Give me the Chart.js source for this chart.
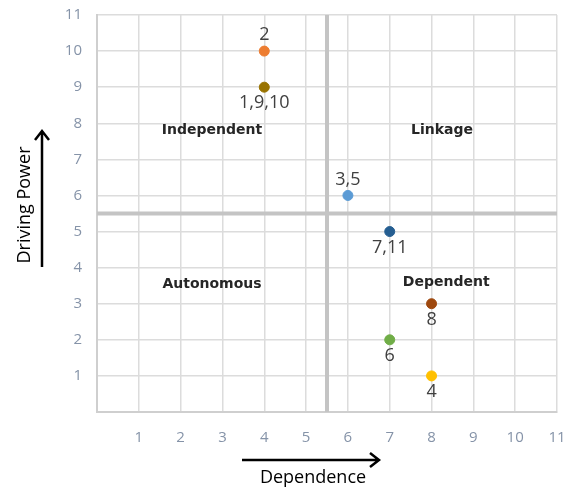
<!DOCTYPE html>
<html>
<head>
<meta charset="utf-8">
<script src="https://cdn.jsdelivr.net/npm/chart.js@4.4.0/dist/chart.umd.min.js"></script>
<style>
  html, body { margin: 0; padding: 0; background: #fff; }
  #wrap { width: 566px; height: 489px; }
</style>
</head>
<body>
<div id="wrap"><canvas id="myChart" width="566" height="489"></canvas></div>
<script>
// variables (dependence, driving power)
var dependence  = [4, 4, 6, 7, 8, 7, 8];
var drivingPower = [10, 9, 6, 5, 3, 2, 1];
var pointLabels = ["2", "1,9,10", "3,5", "7,11", "8", "6", "4"];
var labelSide   = ["above", "below", "above", "below", "below", "below", "below"];
var pointColors = ["#ED7D31", "#997300", "#5B9BD5", "#255E91", "#9E480E", "#70AD47", "#FFC000"];
var axisTicks = [0, 1, 2, 3, 4, 5, 6, 7, 8, 9, 10, 11];
var splitAt = 5.5;
var quadrants = [
  { text: "Independent", x: 2.75, y: 7.8 },
  { text: "Linkage",     x: 8.25, y: 7.8 },
  { text: "Autonomous",  x: 2.75, y: 3.55 },
  { text: "Dependent",   x: 8.35, y: 3.6 }
];

var points = [];
for (var i = 0; i < dependence.length; i++) {
  points.push({ x: dependence[i], y: drivingPower[i] });
}

function noOverhang(s) {
  s.paddingLeft = 0; s.paddingRight = 0; s.paddingTop = 0; s.paddingBottom = 0;
}

var extras = {
  id: 'extras',
  beforeDatasetsDraw: function(chart) {
    var c = chart.ctx, a = chart.chartArea;
    var xs = chart.scales.x, ys = chart.scales.y;
    c.save();
    c.strokeStyle = '#c4c4c4';
    c.lineWidth = 4;
    var px = xs.getPixelForValue(splitAt), py = ys.getPixelForValue(splitAt);
    c.beginPath();
    c.moveTo(px, a.top); c.lineTo(px, a.bottom);
    c.moveTo(a.left, py); c.lineTo(a.right, py);
    c.stroke();
    c.restore();
  },
  afterDatasetsDraw: function(chart) {
    var c = chart.ctx;
    var xs = chart.scales.x, ys = chart.scales.y;
    c.save();
    // point labels
    c.font = '18px "Open Sans"';
    c.fillStyle = '#404040';
    c.textAlign = 'center';
    c.textBaseline = 'middle';
    for (var i = 0; i < points.length; i++) {
      var px = xs.getPixelForValue(points[i].x);
      var py = ys.getPixelForValue(points[i].y);
      var off = labelSide[i] == 'above' ? -16 : 16;
      c.fillText(pointLabels[i], px, py + off);
    }
    // quadrant names
    c.font = 'bold 14px "DejaVu Sans"';
    c.fillStyle = '#262626';
    quadrants.forEach(function(q) {
      c.fillText(q.text, xs.getPixelForValue(q.x), ys.getPixelForValue(q.y));
    });
    // axis titles with arrows
    c.fillStyle = '#000';
    c.strokeStyle = '#000';
    c.lineWidth = 2.5;
    c.font = '18px "Open Sans"';
    c.fillText('Dependence', 313, 478);
    c.beginPath();
    c.moveTo(242, 460); c.lineTo(379, 460);
    c.moveTo(370, 453); c.lineTo(379, 460); c.lineTo(370, 467);
    c.stroke();
    c.save();
    c.translate(25, 205);
    c.rotate(-Math.PI / 2);
    c.fillText('Driving Power', 0, 0);
    c.restore();
    c.beginPath();
    c.moveTo(42, 267); c.lineTo(42, 131);
    c.moveTo(35, 140); c.lineTo(42, 131); c.lineTo(49, 140);
    c.stroke();
    c.restore();
  }
};

var ctx = document.getElementById('myChart');
var myChart = new Chart(ctx, {
  type: 'scatter',
  data: {
    datasets: [{
      data: points,
      backgroundColor: pointColors,
      borderColor: pointColors,
      pointRadius: 5,
      pointHoverRadius: 5
    }]
  },
  options: {
    responsive: false,
    animation: false,
    layout: { padding: { top: 15, right: 9, left: 0, bottom: 0 } },
    plugins: { legend: { display: false }, tooltip: { enabled: false } },
    scales: {
      x: {
        min: axisTicks[0], max: axisTicks[axisTicks.length - 1],
        afterBuildTicks: function(s) { s.ticks = axisTicks.map(function(v) { return { value: v }; }); },
        afterFit: function(s) { s.height = 77; noOverhang(s); },
        grid: { color: '#dcdcdc', lineWidth: 1.5, drawTicks: false },
        border: { color: '#cfcfcf', width: 2 },
        ticks: {
          padding: 17,
          color: '#8593a8',
          font: { family: '"Open Sans"', size: 15 },
          callback: function(v) { return v == 0 ? '' : v; }
        }
      },
      y: {
        min: axisTicks[0], max: axisTicks[axisTicks.length - 1],
        afterBuildTicks: function(s) { s.ticks = axisTicks.map(function(v) { return { value: v }; }); },
        afterFit: function(s) { s.width = 97; noOverhang(s); },
        grid: { color: '#dcdcdc', lineWidth: 1.5, drawTicks: false },
        border: { color: '#cfcfcf', width: 2 },
        ticks: {
          padding: 15,
          color: '#8593a8',
          font: { family: '"Open Sans"', size: 15 },
          callback: function(v) { return v == 0 ? '' : v; }
        }
      }
    }
  },
  plugins: [extras]
});
</script>
</body>
</html>
